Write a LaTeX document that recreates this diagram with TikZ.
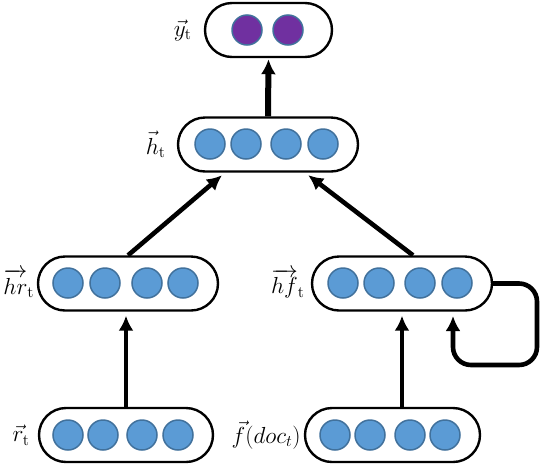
\documentclass[tikz,border=0pt]{standalone}
\usepackage{amsmath}
\usepackage{amssymb}
\usepackage{graphicx}
\usetikzlibrary{arrows.meta,positioning,calc}

\definecolor{unitblue}{HTML}{5B9BD5}
\definecolor{unitedge}{HTML}{41719C}
\definecolor{unitpurple}{HTML}{7030A0}

\newcommand{\lbltext}[1]{\scalebox{1.12}{\huge$#1$}}

\tikzset{
  layer/.style={draw=black,fill=white,line width=2.4pt,rounded corners=27pt,minimum height=54pt},
  unit/.style={circle,draw=unitedge,fill=unitblue,line width=1.5pt,minimum size=30pt,inner sep=0pt},
  outunit/.style={unit,fill=unitpurple},
  lbl/.style={inner sep=0pt},
  arr/.style={-{Latex[length=15pt,width=15pt]},line width=4.6pt,shorten >=4pt}
}

\begin{document}
\begin{tikzpicture}[x=1pt,y=-1pt,node distance=6pt]
            \useasboundingbox (0,0) rectangle (540,464);
            % layers
            \node[layer,minimum width=127pt] (yt) at (268.5,30)  {};
            \node[layer,minimum width=180pt] (ht) at (268,144.5) {};
            \node[layer,minimum width=180pt] (hr) at (128,283.5) {};
            \node[layer,minimum width=180pt] (hf) at (402,283.5) {};
            \node[layer,minimum width=174pt] (rt) at (126,435)   {};
            \node[layer,minimum width=175pt] (ft) at (392.5,435) {};
            % labels
            \node[lbl] (yt_l) [left=12pt of yt] {\lbltext{\vec{y}_{\mathrm{t}}}};
            \node[lbl] (ht_l) [left=11pt of ht] {\lbltext{\vec{h}_{\mathrm{t}}}};
            \node[lbl] (hr_l) [left=2.5pt of hr] {\lbltext{\overrightarrow{hr}_{\mathrm{t}}}};
            \node[lbl] (hf_l) [left=of hf] {\lbltext{\overrightarrow{hf}_{\mathrm{t}}}};
            \node[lbl] (rt_l) [left=8pt of rt] {\lbltext{\vec{r}_{\mathrm{t}}}};
            \node[lbl] (ft_l) [left=3pt of ft] {\lbltext{\vec{f}(doc_t)}};
            % units
            \node[outunit] (y1) at (247,30) {};
            \node[outunit] (y2) at (288,30) {};
            \node[unit] (h1) at (210,144) {};
            \node[unit] (h2) at (246,144) {};
            \node[unit] (h3) at (286,144) {};
            \node[unit] (h4) at (323,144) {};
            \node[unit] (hr1) at (68,283)  {};
            \node[unit] (hr2) at (105,283) {};
            \node[unit] (hr3) at (147,283) {};
            \node[unit] (hr4) at (183,283) {};
            \node[unit] (hf1) at (343,283) {};
            \node[unit] (hf2) at (379,283) {};
            \node[unit] (hf3) at (420,283) {};
            \node[unit] (hf4) at (457,283) {};
            \node[unit] (r1) at (68,435)  {};
            \node[unit] (r2) at (103,435) {};
            \node[unit] (r3) at (142,435) {};
            \node[unit] (r4) at (178,435) {};
            \node[unit] (f1) at (335,435) {};
            \node[unit] (f2) at (370,435) {};
            \node[unit] (f3) at (410,435) {};
            \node[unit] (f4) at (445,435) {};
            % connections
            \coordinate (turn) at (537,365);
            \coordinate (back) at (453,312);
            \draw[arr,line width=6pt,shorten >=1pt] (ht.north) -- (yt.south);
            \draw[arr] (hr.north) -- ($(ht.south)+(-43,0)$);
            \draw[arr] ($(hf.north)+(11,0)$) -- ($(ht.south)+(37,0)$);
            \draw[arr] (rt.north) -- (rt.north |- hr.south);
            \draw[arr] (hf.south |- ft.north) -- (hf.south);
            \draw[arr,rounded corners=18pt] (hf.east) -| (turn) -| (back);
\end{tikzpicture}
\end{document}
